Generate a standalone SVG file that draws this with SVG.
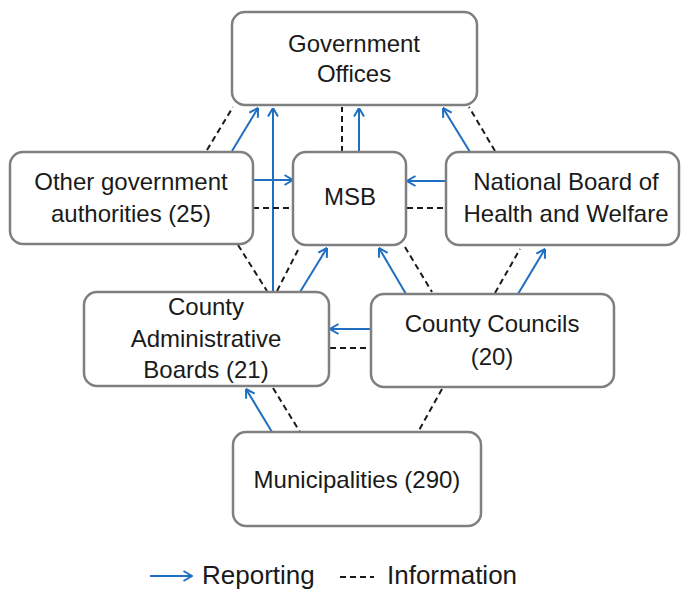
<svg xmlns="http://www.w3.org/2000/svg" width="681" height="591" viewBox="0 0 681 591">
<style>
.box{fill:#fff;stroke:#7f7f7f;stroke-width:2.5}
.t{font-family:"Liberation Sans",Arial,sans-serif;font-size:24px;fill:#1a1a1a;text-anchor:middle}
.rep{stroke:#1f6fc1;stroke-width:2;fill:none;marker-end:url(#ah)}
.inf{stroke:#1a1a1a;stroke-width:2;fill:none;stroke-dasharray:6 4}
.lg{font-family:"Liberation Sans",Arial,sans-serif;font-size:26px;fill:#1a1a1a}
</style>
<defs>
<marker id="ah" markerUnits="userSpaceOnUse" viewBox="0 0 10 12" refX="9.5" refY="6" markerWidth="10" markerHeight="12" orient="auto">
<path d="M1,1 L9.5,6 L1,11" fill="none" stroke="#1f6fc1" stroke-width="2"/>
</marker>
</defs>
<rect width="681" height="591" fill="#fff"/>
<g id="connectors">
<line class="inf" x1="207" y1="150" x2="233" y2="107"/>
<line class="rep" x1="232" y1="151" x2="258" y2="108"/>
<line class="rep" x1="273" y1="292" x2="273" y2="108"/>
<line class="inf" x1="342" y1="152" x2="342" y2="107"/>
<line class="rep" x1="359" y1="151" x2="359" y2="108"/>
<line class="rep" x1="470" y1="152" x2="443" y2="108"/>
<line class="inf" x1="495" y1="151" x2="469" y2="107"/>
<line class="rep" x1="253" y1="180" x2="293" y2="180"/>
<line class="inf" x1="253" y1="208" x2="293" y2="208"/>
<line class="rep" x1="446" y1="181" x2="407" y2="181"/>
<line class="inf" x1="407" y1="208" x2="446" y2="208"/>
<line class="inf" x1="238" y1="245" x2="267" y2="291"/>
<line class="inf" x1="298" y1="250" x2="277" y2="291"/>
<line class="rep" x1="300" y1="292" x2="327" y2="248"/>
<line class="rep" x1="406" y1="294" x2="379" y2="248"/>
<line class="inf" x1="405" y1="247" x2="432" y2="292"/>
<line class="inf" x1="495" y1="293" x2="520" y2="249"/>
<line class="rep" x1="518" y1="294" x2="545" y2="249"/>
<line class="rep" x1="371" y1="329" x2="330" y2="329"/>
<line class="inf" x1="330" y1="348" x2="371" y2="348"/>
<line class="rep" x1="272" y1="432" x2="246" y2="389"/>
<line class="inf" x1="273" y1="388" x2="300" y2="432"/>
<line class="inf" x1="442" y1="389" x2="418" y2="432"/>
</g>
<g id="government-offices">
<rect class="box" x="232" y="12" width="245" height="93" rx="13"/>
<text class="t" x="354" y="52">Government</text>
<text class="t" x="354" y="82">Offices</text>
</g>
<g id="other-authorities">
<rect class="box" x="10" y="152" width="243" height="92" rx="13"/>
<text class="t" x="131" y="190">Other government</text>
<text class="t" x="131" y="222">authorities (25)</text>
</g>
<g id="msb">
<rect class="box" x="293" y="152" width="113" height="93" rx="13"/>
<text class="t" x="350" y="205">MSB</text>
</g>
<g id="national-board">
<rect class="box" x="446" y="152" width="233" height="93" rx="13"/>
<text class="t" x="566" y="190">National Board of</text>
<text class="t" x="566" y="222">Health and Welfare</text>
</g>
<g id="county-admin">
<rect class="box" x="84" y="292" width="245" height="94" rx="13"/>
<text class="t" x="206" y="315">County</text>
<text class="t" x="206" y="347">Administrative</text>
<text class="t" x="206" y="378">Boards (21)</text>
</g>
<g id="county-councils">
<rect class="box" x="371" y="294" width="243" height="93" rx="13"/>
<text class="t" x="492" y="332">County Councils</text>
<text class="t" x="492" y="365">(20)</text>
</g>
<g id="municipalities">
<rect class="box" x="233" y="432" width="248" height="94" rx="13"/>
<text class="t" x="357" y="488">Municipalities (290)</text>
</g>
<g id="legend">
<line class="rep" x1="150" y1="576" x2="192" y2="576"/>
<text class="lg" x="202" y="584">Reporting</text>
<line class="inf" x1="340" y1="577" x2="374" y2="577" stroke-dasharray="7 5"/>
<text class="lg" x="387" y="584">Information</text>
</g>
</svg>
